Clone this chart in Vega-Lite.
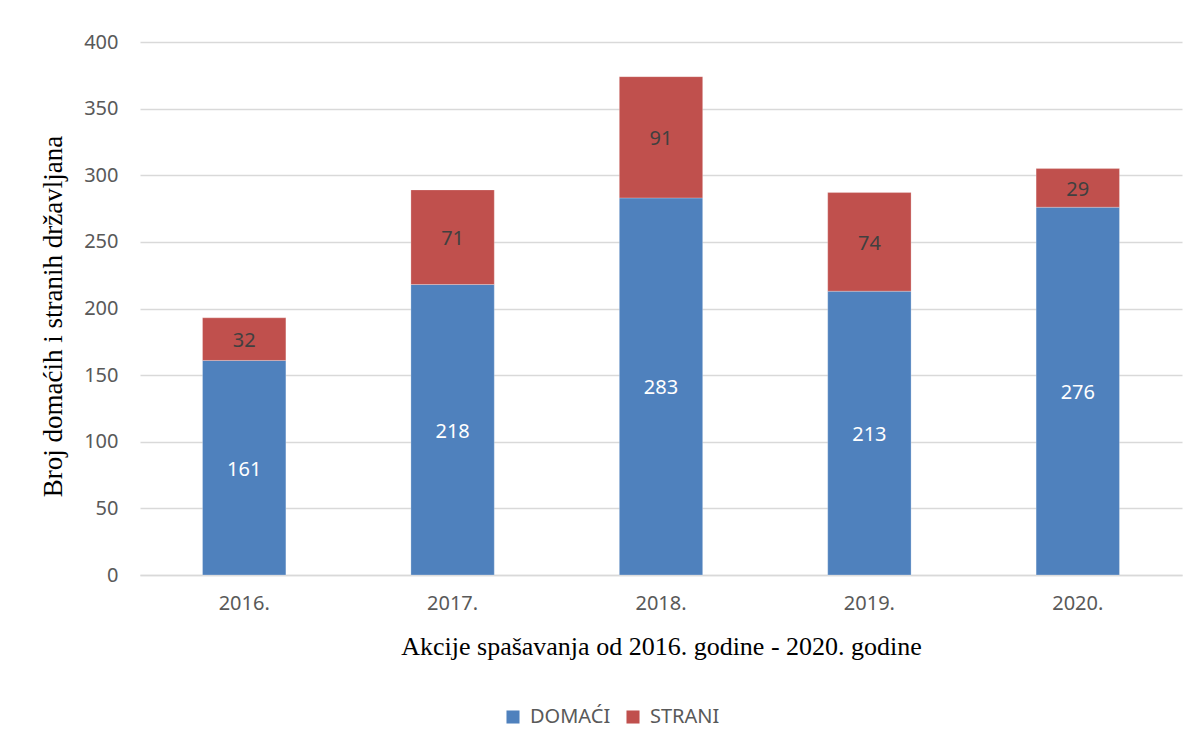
{
  "$schema": "https://vega.github.io/schema/vega-lite/v6.json",
  "width": 1042,
  "height": 533,
  "autosize": {"type": "none"},
  "padding": {"left": 140, "top": 42, "right": 16, "bottom": 171},
  "background": "white",
  "config": {
    "view": {"stroke": null},
    "font": "Noto Sans"
  },
  "data": {
    "values": [
      {"godina": "2016.", "tip": "DOMAĆI", "broj": 161, "red": 1},
      {"godina": "2016.", "tip": "STRANI", "broj": 32, "red": 2},
      {"godina": "2017.", "tip": "DOMAĆI", "broj": 218, "red": 1},
      {"godina": "2017.", "tip": "STRANI", "broj": 71, "red": 2},
      {"godina": "2018.", "tip": "DOMAĆI", "broj": 283, "red": 1},
      {"godina": "2018.", "tip": "STRANI", "broj": 91, "red": 2},
      {"godina": "2019.", "tip": "DOMAĆI", "broj": 213, "red": 1},
      {"godina": "2019.", "tip": "STRANI", "broj": 74, "red": 2},
      {"godina": "2020.", "tip": "DOMAĆI", "broj": 276, "red": 1},
      {"godina": "2020.", "tip": "STRANI", "broj": 29, "red": 2}
    ]
  },
  "transform": [
    {"stack": "broj", "groupby": ["godina"], "sort": [{"field": "red", "order": "ascending"}], "as": ["b0", "b1"]},
    {"calculate": "(datum.b0 + datum.b1) / 2", "as": "mid"}
  ],
  "encoding": {
    "x": {
      "field": "godina",
      "type": "nominal",
      "scale": {"paddingInner": 0.6, "paddingOuter": 0.3},
      "axis": {
        "title": "Akcije spašavanja od 2016. godine - 2020. godine",
        "titleFont": "Liberation Serif",
        "titleFontSize": 26,
        "titleFontWeight": "normal",
        "titleColor": "#000000",
        "titlePadding": 20,
        "labelAngle": 0,
        "labelFontSize": 20,
        "labelColor": "#595959",
        "labelPadding": 18,
        "ticks": false,
        "domainColor": "#d9d9d9",
        "domainWidth": 1.5
      }
    }
  },
  "layer": [
    {
      "mark": {"type": "bar", "stroke": "#ffffff", "strokeOpacity": 0.25, "strokeWidth": 1},
      "encoding": {
        "y": {
          "field": "b0",
          "type": "quantitative",
          "scale": {"domain": [0, 400]},
          "axis": {
            "title": "Broj domaćih i stranih državljana",
            "titleFont": "Liberation Serif",
            "titleFontSize": 27,
            "titleFontWeight": "normal",
            "titleColor": "#000000",
            "titlePadding": 16,
            "titleY": 274,
            "values": [0, 50, 100, 150, 200, 250, 300, 350, 400],
            "labelFontSize": 20,
            "labelColor": "#595959",
            "labelPadding": 22,
            "ticks": false,
            "domain": false,
            "gridColor": "#d9d9d9",
            "gridWidth": 1.5
          }
        },
        "y2": {"field": "b1"},
        "color": {
          "field": "tip",
          "type": "nominal",
          "scale": {"domain": ["DOMAĆI", "STRANI"], "range": ["#4f81bd", "#c0504d"]},
          "legend": {
            "title": null,
            "orient": "none",
            "direction": "horizontal",
            "legendX": 363,
            "legendY": 665,
            "symbolType": "square",
            "symbolSize": 170,
            "symbolStrokeWidth": 0,
            "labelFontSize": 20,
            "labelColor": "#595959",
            "labelOffset": 7,
            "columnPadding": 12
          }
        }
      }
    },
    {
      "mark": {"type": "text", "fontSize": 20, "baseline": "middle", "align": "center", "dy": 2},
      "encoding": {
        "y": {"field": "mid", "type": "quantitative"},
        "text": {"field": "broj", "type": "quantitative"},
        "color": {
          "condition": {"test": "datum.tip === 'DOMAĆI'", "value": "#ffffff"},
          "value": "#404040"
        }
      }
    }
  ]
}
